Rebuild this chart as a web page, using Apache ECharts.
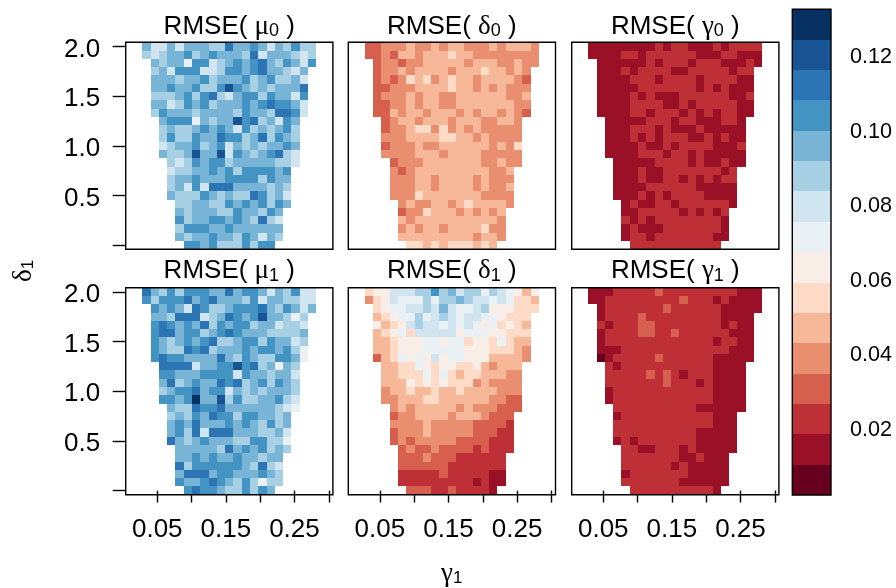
<!DOCTYPE html>
<html><head><meta charset="utf-8">
<style>html,body{margin:0;padding:0;background:#fff}#c{width:896px;height:588px}</style>
<script src="https://cdn.jsdelivr.net/npm/echarts@6/dist/echarts.min.js"></script>
</head><body><div id="c"></div>
<script>
// axis values of the grid of simulations
const gamma1 = [0.01,0.0221,0.0342,0.0463,0.0583,0.0704,0.0825,0.0946,0.1067,0.1188,0.1308,0.1429,0.155,0.1671,0.1792,0.1913,0.2033,0.2154,0.2275,0.2396,0.2517,0.2638,0.2758,0.2879,0.30];
const delta1 = [2,1.917,1.833,1.75,1.667,1.583,1.5,1.417,1.333,1.25,1.167,1.083,1,0.917,0.833,0.75,0.667,0.583,0.5,0.417,0.333,0.25,0.167,0.083,0];
const xTicks = [0.05,0.10,0.15,0.20,0.25,0.30];
const xLabels = [0.05,0.15,0.25];
const yTicks = [0,0.5,1,1.5,2];
const yLabels = [0.5,1,1.5,2];
const barTicks = [0.02,0.04,0.06,0.08,0.10,0.12];
const levels = [0.0018,0.00995,0.0181,0.02625,0.0344,0.04255,0.0507,0.05885,0.067,0.07515,0.0833,0.09145,0.0996,0.10775,0.1159,0.12405,0.1322];
const palette = ['#67001F','#991027','#BE3036','#D6604D','#EA8E70','#F7B799','#FDDBC7','#F9EEE7','#EAF1F5','#D1E5F0','#A7D0E4','#78B4D5','#4393C3','#2C75B4','#185493','#053061'];

// RMSE x 1000, rows from delta=2 (top) to delta=0 (bottom)
const rmseMu0 = [
[,,96,79,79,96,79,96,96,96,87,87,112,96,96,104,96,79,96,87,104,87,87],
[,,87,79,87,96,96,104,87,96,104,96,96,96,87,112,79,96,96,96,87,79,87],
[,,,96,87,96,96,71,104,104,79,87,96,104,96,104,112,96,87,104,96,79,104],
[,,,87,96,79,104,104,104,79,79,87,104,104,96,104,112,96,96,87,79,96],
[,,,96,96,96,87,96,96,104,87,96,96,96,104,87,96,104,87,87,96,79],
[,,,96,96,104,96,96,104,87,87,104,120,104,96,87,96,87,96,96,96,112],
[,,,87,87,87,96,104,87,104,112,87,79,96,104,104,87,104,96,96,79,104],
[,,,96,96,79,87,104,96,104,87,96,96,96,104,96,104,112,104,104,96,79],
[,,,87,104,96,96,96,87,96,96,96,96,87,104,96,96,87,112,112,104,79],
[,,,,96,104,104,104,71,96,87,96,96,120,104,112,87,96,79,104,96],
[,,,,87,96,87,87,96,104,96,104,96,79,104,87,96,87,96,104,87],
[,,,,87,104,87,87,104,96,96,112,104,104,87,96,112,87,104,96,87],
[,,,,79,87,96,96,104,87,96,104,79,96,87,96,87,96,96,104,96],
[,,,,96,87,87,96,120,96,96,120,79,104,96,87,96,104,112,87,79],
[,,,,,87,79,87,104,96,104,104,87,96,96,96,96,96,87,87,79],
[,,,,,79,87,87,96,96,104,96,104,87,104,104,104,104,96,104],
[,,,,,87,96,96,104,96,96,96,104,104,104,104,87,104,96,96],
[,,,,,87,96,79,104,79,112,112,112,96,96,96,96,87,96,87],
[,,,,,96,87,87,87,104,96,87,96,87,87,112,104,87,96,79],
[,,,,,,87,87,96,96,87,87,104,96,104,96,104,87,104,96],
[,,,,,,96,87,96,96,96,87,87,104,96,96,87,104,96],
[,,,,,,104,87,96,96,104,104,96,104,96,87,112,87,79],
[,,,,,,87,104,104,104,96,96,104,96,96,96,96,96,96],
[,,,,,,96,87,96,96,104,96,96,87,104,96,79,96,87],
[,,,,,,,104,104,96,104,87,87,87,104,87,104,104]];

const rmseDelta0 = [
[,,30,30,39,39,39,47,39,39,47,39,47,47,39,39,39,47,39,47,47,47,39],
[,,30,30,39,30,47,47,39,47,47,47,55,47,47,39,39,39,39,39,39,39,39],
[,,,30,39,39,30,39,39,47,47,47,47,47,39,47,47,47,39,39,47,39,39],
[,,,30,39,39,47,39,47,47,47,47,39,47,47,47,55,47,47,39,47,39],
[,,,30,39,30,39,55,47,55,39,47,55,47,47,39,47,47,47,47,39,30],
[,,,30,30,39,39,39,47,47,47,47,55,47,47,39,47,39,47,39,39,39],
[,,,30,39,39,39,47,39,47,47,39,39,47,47,47,47,47,47,39,39,47],
[,,,30,30,39,39,47,39,47,47,39,39,47,47,47,47,47,47,47,39,39],
[,,,30,30,47,39,47,47,39,47,47,47,39,47,39,47,47,39,47,39,30],
[,,,,30,39,47,47,39,47,47,47,39,47,47,47,39,39,47,47,39],
[,,,,30,39,39,47,55,55,39,55,39,47,39,47,39,39,39,39,39],
[,,,,39,39,39,47,47,47,47,55,55,47,47,39,47,39,39,39,39],
[,,,,30,39,39,39,47,39,39,47,47,47,47,47,47,39,47,39,55],
[,,,,39,39,39,39,47,47,47,39,47,47,47,47,39,39,39,39,39],
[,,,,,30,39,39,39,47,47,47,47,47,47,47,39,39,47,39,39],
[,,,,,39,30,39,47,47,47,47,47,47,47,47,47,39,39,47],
[,,,,,39,39,39,47,47,39,47,47,47,47,39,47,39,39,39],
[,,,,,39,39,39,47,47,39,47,47,47,47,39,47,39,39,47],
[,,,,,39,39,39,55,47,47,47,47,47,47,47,39,39,39,39],
[,,,,,,39,47,39,39,47,47,39,47,55,47,47,47,47,39],
[,,,,,,30,39,39,55,47,47,47,39,47,39,47,39,47],
[,,,,,,47,39,47,47,47,47,47,47,47,47,47,47,39],
[,,,,,,39,47,39,47,47,39,47,47,47,47,55,39,39],
[,,,,,,47,47,47,47,47,47,47,47,47,39,47,47,39],
[,,,,,,,55,55,47,55,47,55,55,55,47,55,47]];

const rmseGamma0 = [
[,,14,14,14,14,14,14,14,14,22,14,22,22,14,14,14,22,14,22,22,22,22],
[,,14,14,14,14,22,22,14,22,22,22,22,22,22,14,14,14,22,22,14,14,14],
[,,,14,14,14,14,14,14,22,14,22,22,22,14,22,22,22,14,14,14,22,14],
[,,,14,14,14,22,14,22,22,22,22,14,14,22,22,22,22,22,14,22,22],
[,,,14,14,14,14,22,22,22,14,22,22,22,22,14,22,22,22,22,14,14],
[,,,14,14,14,14,14,22,22,22,22,22,22,22,14,22,14,22,14,14,14],
[,,,14,14,14,14,22,14,22,14,14,14,22,22,22,22,22,22,14,14,22],
[,,,14,14,14,14,22,22,22,22,14,14,22,14,22,22,22,22,22,14,14],
[,,,14,14,14,14,22,22,14,22,22,22,14,22,14,22,14,22,22,14,14],
[,,,,14,14,14,14,14,22,22,22,14,22,22,14,14,14,22,22,14],
[,,,,14,14,14,22,22,22,14,22,14,14,14,22,14,14,14,14,14],
[,,,,14,14,14,22,14,22,14,22,22,22,14,14,22,14,22,14,14],
[,,,,14,14,14,14,22,14,14,22,14,22,22,22,22,14,14,14,22],
[,,,,14,14,14,14,22,22,22,14,22,22,14,22,14,14,14,14,14],
[,,,,,14,14,14,14,14,22,22,22,22,14,22,14,14,22,14,14],
[,,,,,14,14,14,22,14,14,22,22,22,22,22,22,22,14,22],
[,,,,,14,14,14,22,14,14,22,22,14,22,14,22,14,22,22],
[,,,,,14,14,14,14,22,22,22,22,22,22,14,14,14,14,14],
[,,,,,14,14,14,22,14,22,14,22,22,22,22,14,14,14,14],
[,,,,,,14,22,14,14,22,22,14,22,22,22,22,22,22,14],
[,,,,,,14,14,22,22,22,22,22,14,22,14,22,14,22],
[,,,,,,22,14,22,14,22,22,22,22,22,22,22,22,14],
[,,,,,,14,22,14,14,14,22,22,22,22,22,22,22,14],
[,,,,,,14,22,22,14,22,22,22,22,22,22,22,14,14],
[,,,,,,,22,22,22,22,22,22,22,22,22,22,22]];

const rmseMu1 = [
[,,112,96,87,104,87,104,104,104,96,96,112,96,104,104,96,79,96,87,104,79,79],
[,,104,87,104,104,104,112,96,104,112,96,96,96,87,104,79,96,96,87,87,79,79],
[,,,104,96,104,96,79,112,104,87,87,96,104,104,104,112,96,87,104,96,79,96],
[,,,96,96,87,112,112,112,79,87,96,112,104,96,104,120,96,96,87,71,87],
[,,,104,112,104,96,104,96,112,87,104,96,104,104,87,96,96,79,87,87,79],
[,,,104,112,112,96,104,104,87,96,104,112,104,96,96,96,87,87,87,87,96],
[,,,104,96,87,96,104,96,104,112,87,87,96,104,104,87,104,96,96,79,87],
[,,,104,96,87,87,112,104,112,87,96,96,96,104,96,104,104,96,104,87,71],
[,,,104,112,104,104,96,96,96,96,112,96,87,104,96,87,87,104,104,96,71],
[,,,,112,112,112,112,79,96,96,104,104,120,104,112,87,96,71,96,87],
[,,,,104,104,96,96,96,104,104,104,104,79,104,96,96,87,96,96,79],
[,,,,96,112,87,96,104,96,96,112,104,112,87,96,104,87,104,96,87],
[,,,,87,96,104,104,112,96,104,104,79,96,87,96,87,96,96,96,87],
[,,,,104,104,96,104,128,96,96,120,87,104,87,87,96,96,104,87,79],
[,,,,,96,87,87,112,104,104,112,96,96,96,96,96,96,87,79,71],
[,,,,,87,96,87,104,96,112,104,104,87,104,104,96,96,87,96],
[,,,,,96,104,96,112,96,96,96,104,96,104,96,87,104,87,96],
[,,,,,96,104,87,112,79,112,112,112,96,96,96,87,87,96,79],
[,,,,,112,96,87,96,104,96,96,96,87,87,104,104,87,87,71],
[,,,,,,96,96,96,96,96,87,112,96,104,96,104,87,96,87],
[,,,,,,96,96,104,96,104,96,96,104,96,96,87,96,96],
[,,,,,,112,87,104,104,104,104,104,104,96,87,112,87,79],
[,,,,,,96,112,112,112,96,104,104,96,96,96,104,96,87],
[,,,,,,104,96,96,104,112,104,96,87,104,87,71,87,87],
[,,,,,,,104,112,104,104,96,87,87,104,87,104,96]];

const rmseDelta1 = [
[,,55,63,63,79,79,79,87,87,104,87,96,79,87,87,71,87,79,71,63,47,63],
[,,39,55,63,79,71,71,71,87,71,87,87,96,87,79,79,71,79,71,55,55,47],
[,,,55,63,71,71,79,79,87,79,96,79,71,71,79,87,63,63,63,55,55,55],
[,,,47,55,63,71,71,87,71,79,87,79,71,79,79,71,71,63,55,55,55],
[,,,63,47,55,63,79,87,79,79,71,79,71,79,71,63,71,55,63,55,47],
[,,,47,55,63,71,55,79,79,79,79,79,63,71,71,71,63,63,55,55,55],
[,,,47,47,55,63,63,63,71,71,63,71,71,55,63,63,55,71,55,47,47],
[,,,47,47,55,63,63,63,71,71,71,71,71,63,63,63,55,55,55,47,39],
[,,,30,47,55,71,63,71,63,79,63,71,71,63,63,63,47,47,47,47,39],
[,,,,47,47,55,55,71,63,55,63,63,55,55,63,47,39,47,47,47],
[,,,,47,47,55,55,55,71,55,71,55,47,55,55,47,47,47,39,39],
[,,,,47,47,47,63,55,63,55,63,55,55,55,39,47,39,39,39,39],
[,,,,39,47,47,55,47,47,55,47,47,55,47,47,47,47,39,39,39],
[,,,,39,39,47,47,47,55,55,47,47,47,47,47,47,39,39,30,30],
[,,,,,39,47,39,47,47,47,47,47,39,47,39,39,39,30,30,30],
[,,,,,30,39,39,47,47,47,47,39,47,47,47,39,30,30,30],
[,,,,,39,39,39,39,47,39,39,39,39,39,30,30,30,30,22],
[,,,,,30,39,39,39,47,39,39,39,39,39,30,30,30,22,22],
[,,,,,30,39,30,39,39,39,39,39,30,30,30,30,22,22,22],
[,,,,,,30,39,30,30,39,30,30,30,30,22,30,22,22,22],
[,,,,,,30,30,30,39,30,30,30,22,22,22,22,22,22],
[,,,,,,30,30,30,30,30,30,22,22,22,22,22,22,22],
[,,,,,,22,22,22,22,22,30,22,22,22,22,22,14,14],
[,,,,,,22,22,22,22,22,22,22,22,22,14,22,14,14],
[,,,,,,,30,30,30,22,22,30,22,22,22,22,14]];

const rmseGamma1 = [
[,,14,14,14,22,22,22,22,22,30,22,22,22,22,22,22,22,22,22,14,14,14],
[,,14,14,22,22,22,22,22,22,22,22,22,30,22,22,22,14,22,14,14,14,14],
[,,,14,22,22,22,22,22,22,22,30,22,22,22,22,22,22,14,14,14,14,14],
[,,,14,22,22,22,22,30,22,22,22,22,22,22,22,22,22,14,14,14,14],
[,,,22,14,22,22,22,30,30,22,22,22,22,22,22,22,22,14,22,14,14],
[,,,14,22,22,22,22,30,30,22,22,30,22,22,22,22,22,22,14,14,14],
[,,,14,22,22,22,22,22,22,22,22,22,22,22,22,22,14,22,22,14,14],
[,,,14,14,14,22,22,22,22,22,22,22,22,22,22,22,22,22,14,14,14],
[,,,6,14,22,22,22,22,22,30,22,22,22,22,22,22,14,14,14,14,14],
[,,,,22,14,22,22,22,22,22,22,22,22,22,22,22,14,14,14,14],
[,,,,22,22,22,22,22,30,22,30,22,14,22,22,22,14,14,14,14],
[,,,,22,22,22,22,22,22,22,30,22,22,22,14,22,14,14,14,14],
[,,,,14,22,22,22,22,22,22,22,22,22,22,22,22,14,14,14,14],
[,,,,14,22,22,22,22,22,22,22,22,22,22,22,22,14,14,14,14],
[,,,,,22,22,22,22,22,22,22,22,22,22,14,14,14,14,14,14],
[,,,,,14,22,22,22,22,22,22,22,22,22,22,22,14,14,14],
[,,,,,22,22,22,22,22,22,22,22,22,22,22,22,14,14,14],
[,,,,,22,22,22,22,22,22,22,22,22,22,14,14,14,14,14],
[,,,,,14,22,14,22,22,22,22,22,22,22,14,14,14,14,14],
[,,,,,,22,22,14,14,22,22,22,14,22,14,14,14,14,14],
[,,,,,,22,22,22,22,22,22,22,14,14,22,14,14,14],
[,,,,,,22,22,22,22,22,22,14,22,14,14,14,14,14],
[,,,,,,14,22,22,22,22,22,22,22,14,14,14,14,14],
[,,,,,,22,22,22,22,22,22,22,14,14,14,14,14,14],
[,,,,,,,22,22,22,22,22,22,22,22,22,22,14]];

const panels = [
  {name:'\u03BC', sub:'0', rows:rmseMu0},
  {name:'\u03B4', sub:'0', rows:rmseDelta0},
  {name:'\u03B3', sub:'0', rows:rmseGamma0},
  {name:'\u03BC', sub:'1', rows:rmseMu1},
  {name:'\u03B4', sub:'1', rows:rmseDelta1},
  {name:'\u03B3', sub:'1', rows:rmseGamma1}
];

const SANS = '"Liberation Sans", Arial, sans-serif';
const GREEK = '"Liberation Serif", serif';
const INK = '#000';
const FS = 26;
const panelLeft = [125.7, 348.3, 571.7];
const panelTop = [42.3, 287.7];
const PW = 207.2, PH = 207;
const dx = 0.29/24, dy = 2/24;

function colorOf(v){
  for (let k = 0; k < palette.length; k++) if (v < levels[k+1]) return palette[k];
  return palette[palette.length-1];
}
function rectOf(api, x0, y0, x1, y1){
  const a = api.coord([x0,y0]), b = api.coord([x1,y1]);
  const l = Math.round(Math.min(a[0],b[0])), r = Math.round(Math.max(a[0],b[0]));
  const t = Math.round(Math.min(a[1],b[1])), bo = Math.round(Math.max(a[1],b[1]));
  return {x:l, y:t, width:r-l, height:bo-t};
}

const grids=[], xAxes=[], yAxes=[], series=[], titles=[];
panels.forEach((p,i)=>{
  const col=i%3, row=Math.floor(i/3);
  grids.push({left:panelLeft[col], top:panelTop[row], width:PW, height:PH, show:true, z:5,
    borderColor:INK, borderWidth:1.4, backgroundColor:'transparent', containLabel:false});
  xAxes.push({type:'value', gridIndex:i, min:gamma1[0]-dx/2, max:gamma1[24]+dx/2, splitLine:{show:false},
    axisLine:{show:false},
    axisTick:{show:row===1, length:12, inside:false, lineStyle:{color:INK,width:1.4}, customValues:xTicks},
    axisLabel:{show:row===1, margin:22, fontFamily:SANS, fontSize:FS, color:INK, customValues:xLabels, formatter:v=>v.toFixed(2), hideOverlap:false}});
  yAxes.push({type:'value', gridIndex:i, min:delta1[24]-dy/2, max:delta1[0]+dy/2, splitLine:{show:false},
    axisLine:{show:false},
    axisTick:{show:col===0, length:13, lineStyle:{color:INK,width:1.4}, customValues:yTicks},
    axisLabel:{show:col===0, margin:25.5, color:INK, customValues:yLabels, formatter:v=>'{a|'+v.toFixed(1)+'}', hideOverlap:false,
      rich:{a:{fontFamily:SANS, fontSize:FS, color:INK, padding:[6,0,0,0]}}}});
  const data=[];
  p.rows.forEach((r,ri)=>{ for(let ci=0;ci<r.length;ci++){ if(r[ci]!==undefined) data.push([gamma1[ci],delta1[ri],r[ci]/1000]); } });
  series.push({type:'custom', xAxisIndex:i, yAxisIndex:i, data, encode:{x:0,y:1}, silent:true, animation:false,
    renderItem:(params,api)=>({type:'rect',
      shape:rectOf(api, api.value(0)-dx/2, api.value(1)+dy/2, api.value(0)+dx/2, api.value(1)-dy/2),
      style:{fill:colorOf(api.value(2))}})});
  titles.push({text:'RMSE( {g|'+p.name+'}{s|'+p.sub+'} )', left:panelLeft[col]+PW/2, top:panelTop[row]-29-row, padding:0, textAlign:'center',
    textStyle:{fontFamily:SANS, fontSize:FS, fontWeight:'normal', color:INK,
      rich:{g:{fontFamily:GREEK, fontSize:FS+1, color:INK}, s:{fontFamily:SANS, fontSize:18, color:INK, padding:[9,0,0,0]}}}});
});

// colour key
const barData = palette.map((c,k)=>[0,levels[k],levels[k+1]]);
grids.push({left:792.3, top:9.3, width:38.7, height:485.7, show:true, z:5, borderColor:INK, borderWidth:1.4, backgroundColor:'transparent'});
xAxes.push({type:'value', gridIndex:6, min:0, max:1, show:false});
yAxes.push({type:'value', gridIndex:6, position:'right', min:levels[0], max:levels[16], splitLine:{show:false}, axisLine:{show:false},
  axisTick:{show:true, length:10.5, lineStyle:{color:INK,width:1.4}, customValues:barTicks},
  axisLabel:{show:true, margin:19, color:INK, customValues:barTicks, formatter:v=>'{a|'+v.toFixed(2)+'}', hideOverlap:false,
    rich:{a:{fontFamily:SANS, fontSize:21.6, color:INK, padding:[5,0,0,0]}}}});
series.push({type:'custom', xAxisIndex:6, yAxisIndex:6, data:barData, encode:{y:[1,2]}, silent:true, animation:false,
  renderItem:(params,api)=>({type:'rect', shape:rectOf(api,0,api.value(2),1,api.value(1)), style:{fill:colorOf(api.value(1)+1e-6)}})});

const chart = echarts.init(document.getElementById('c'), null, {renderer:'canvas', width:896, height:588});
chart.setOption({animation:false, backgroundColor:'#fff', title:titles, grid:grids, xAxis:xAxes, yAxis:yAxes, series,
  graphic:[
    {type:'text', left:441, top:560, silent:true, style:{text:'{g|\u03B3}{s|1}', rich:{g:{fontFamily:GREEK,fontSize:FS+1,fill:INK}, s:{fontFamily:SANS,fontSize:17,fill:INK,padding:[9,0,0,0]}}}},
    {type:'text', x:24, y:271, rotation:Math.PI/2, silent:true, style:{text:'{g|\u03B4}{s|1}', align:'center', verticalAlign:'middle', rich:{g:{fontFamily:GREEK,fontSize:FS+1,fill:INK}, s:{fontFamily:SANS,fontSize:17,fill:INK,padding:[9,0,0,0]}}}}
  ]});
</script></body></html>
